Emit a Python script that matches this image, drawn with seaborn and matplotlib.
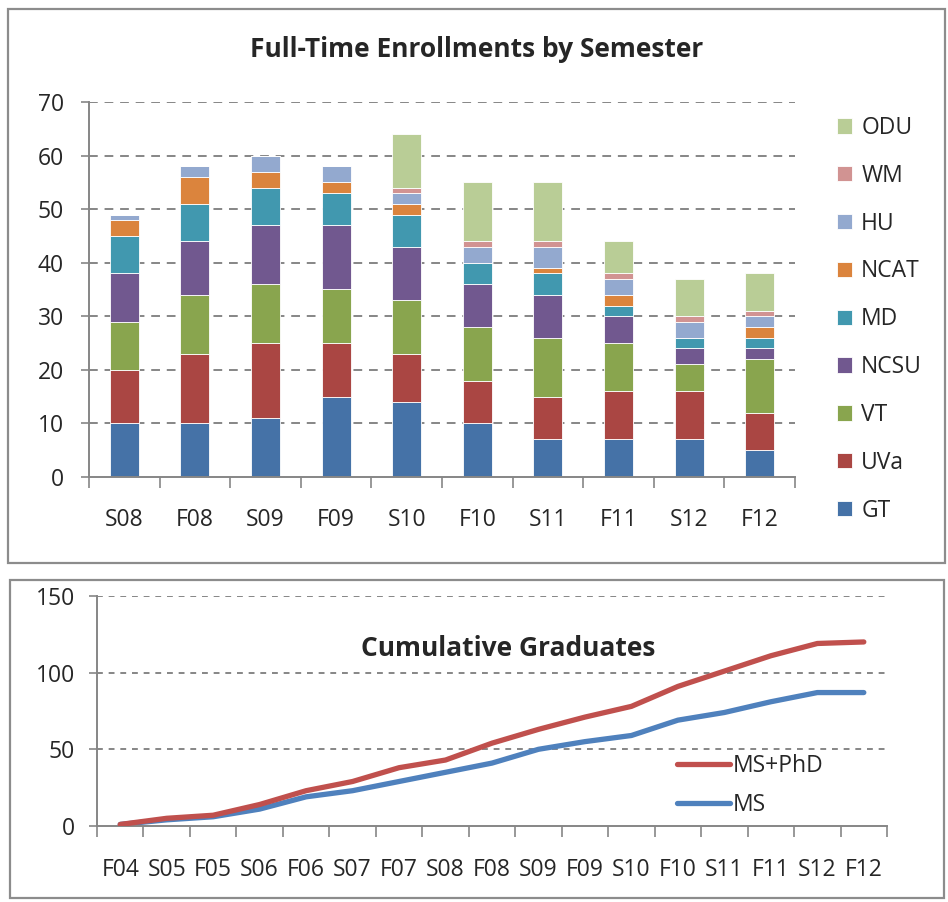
import numpy as np
import pandas as pd
import matplotlib
matplotlib.use('Agg')
import matplotlib.pyplot as plt
from matplotlib.patches import Rectangle
import seaborn as sns

# 学期
semesters = ['S08', 'F08', 'S09', 'F09', 'S10', 'F10', 'S11', 'F11', 'S12', 'F12']

# 各校全日制注册人数
gt = [10, 10, 11, 15, 14, 10, 7, 7, 7, 5]
uva = [10, 13, 14, 10, 9, 8, 8, 9, 9, 7]
vt = [9, 11, 11, 10, 10, 10, 11, 9, 5, 10]
ncsu = [9, 10, 11, 12, 10, 8, 8, 5, 3, 2]
md = [7, 7, 7, 6, 6, 4, 4, 2, 2, 2]
ncat = [3, 5, 3, 2, 2, 0, 1, 2, 0, 2]
hu = [1, 2, 3, 3, 2, 3, 4, 3, 3, 2]
wm = [0, 0, 0, 0, 1, 1, 1, 1, 1, 1]
odu = [0, 0, 0, 0, 10, 11, 11, 6, 7, 7]

schools = ['ODU', 'WM', 'HU', 'NCAT', 'MD', 'NCSU', 'VT', 'UVa', 'GT']
school_colors = ['#B9CD96', '#D19392', '#93A9CF', '#DB843D', '#4198AF',
                 '#71588F', '#89A54E', '#AA4643', '#4572A7']

# 累计毕业人数
terms = ['F04', 'S05', 'F05', 'S06', 'F06', 'S07', 'F07', 'S08', 'F08',
         'S09', 'F09', 'S10', 'F10', 'S11', 'F11', 'S12', 'F12']
ms_phd = [1, 5, 7, 14, 23, 29, 38, 43, 54, 63, 71, 78, 91, 101, 111, 119, 120]
ms = [1, 4, 6, 11, 19, 23, 29, 35, 41, 50, 55, 59, 69, 74, 81, 87, 87]

sns.set_theme(style='white')
plt.rcParams['font.family'] = ['Open Sans', 'DejaVu Sans']

counts = {'GT': gt, 'UVa': uva, 'VT': vt, 'NCSU': ncsu, 'MD': md,
          'NCAT': ncat, 'HU': hu, 'WM': wm, 'ODU': odu}
enroll = pd.DataFrame([
    {'semester': s, 'school': name, 'count': v}
    for name, vals in counts.items() for s, v in zip(semesters, vals)
])

grad = pd.concat([
    pd.DataFrame({'pos': np.arange(len(terms)), 'value': ms_phd, 'series': 'MS+PhD'}),
    pd.DataFrame({'pos': np.arange(len(terms)), 'value': ms, 'series': 'MS'}),
])

fig = plt.figure(figsize=(9.48, 9.02), dpi=100)
grey = '#868686'
fs = 16.5

# ---- 上图：堆叠柱状图
ax1 = fig.add_axes([0.0939, 0.4712, 0.7447, 0.4157])
sns.histplot(data=enroll, x='semester', weights='count', hue='school',
             hue_order=schools, palette=school_colors, multiple='stack',
             discrete=True, shrink=0.41, alpha=1, edgecolor='white',
             linewidth=0.6, ax=ax1)
ax1.set_xlim(-0.5, len(semesters) - 0.5)
ax1.set_ylim(0, 70)
ax1.set_yticks(range(0, 71, 10))
ax1.set_xticks(np.arange(-0.5, len(semesters)), labels=[])
ax1.set_xticks(np.arange(len(semesters)), labels=semesters, minor=True)
ax1.tick_params(axis='x', which='major', length=8, width=1.2, color=grey, direction='out', bottom=True)
ax1.tick_params(axis='x', which='minor', length=0, pad=22, labelsize=fs)
ax1.tick_params(axis='y', length=6, width=1.2, color=grey, direction='out', left=True, pad=12, labelsize=fs)
ax1.set_xlabel('')
ax1.set_ylabel('')
for y in range(10, 71, 10):
    ax1.axhline(y, color=grey, lw=1.4, dashes=(4.5, 3.5), zorder=0)
for side in ['top', 'right']:
    ax1.spines[side].set_visible(False)
for side in ['left', 'bottom']:
    ax1.spines[side].set_color(grey)
    ax1.spines[side].set_linewidth(1.4)
sns.move_legend(ax1, 'center left', bbox_to_anchor=(0.871, 0.646),
                bbox_transform=fig.transFigure, frameon=False, title=None,
                fontsize=fs, handlelength=0.65, handleheight=0.65,
                handletextpad=0.4, labelspacing=1.04, borderpad=0)
fig.text(0.503, 0.9446, 'Full-Time Enrollments by Semester', ha='center',
         va='center', fontsize=19, fontweight='bold')

# ---- 下图：累计毕业人数折线
ax2 = fig.add_axes([0.1023, 0.0843, 0.8334, 0.2550])
sns.lineplot(data=grad, x='pos', y='value', hue='series',
             hue_order=['MS+PhD', 'MS'], palette=['#C0504D', '#4F81BD'],
             linewidth=3.8, ax=ax2)
ax2.lines[0].set_zorder(3)
ax2.set_xlim(-0.5, len(terms) - 0.5)
ax2.set_ylim(0, 150)
ax2.set_yticks([0, 50, 100, 150])
ax2.set_xticks(np.arange(-0.5, len(terms)), labels=[])
ax2.set_xticks(np.arange(len(terms)), labels=terms, minor=True)
ax2.tick_params(axis='x', which='major', length=8, width=1.2, color=grey, direction='out', bottom=True)
ax2.tick_params(axis='x', which='minor', length=0, pad=23, labelsize=fs)
ax2.tick_params(axis='y', length=6, width=1.2, color=grey, direction='out', left=True, pad=10, labelsize=fs)
ax2.set_xlabel('')
ax2.set_ylabel('')
for y in [50, 100, 150]:
    ax2.axhline(y, color=grey, lw=1.4, dashes=(3, 3), zorder=0)
for side in ['top', 'right']:
    ax2.spines[side].set_visible(False)
for side in ['left', 'bottom']:
    ax2.spines[side].set_color(grey)
    ax2.spines[side].set_linewidth(1.4)
ax2.legend(loc='center left', bbox_to_anchor=(0.702, 0.1292),
           bbox_transform=fig.transFigure, frameon=False, fontsize=fs,
           handlelength=2.3, handletextpad=0.15, labelspacing=0.63, borderpad=0)
fig.text(0.536, 0.2805, 'Cumulative Graduates', ha='center', va='center',
         fontsize=19, fontweight='bold')

# 外框
fig.add_artist(Rectangle((0.0084, 0.3758), 0.9884, 0.6142, transform=fig.transFigure,
                         fill=False, edgecolor='#8c8c8c', lw=1.6))
fig.add_artist(Rectangle((0.0106, 0.0044), 0.9852, 0.3525, transform=fig.transFigure,
                         fill=False, edgecolor='#8c8c8c', lw=1.6))

fig.savefig('out.png', dpi=100)
plt.close(fig)
